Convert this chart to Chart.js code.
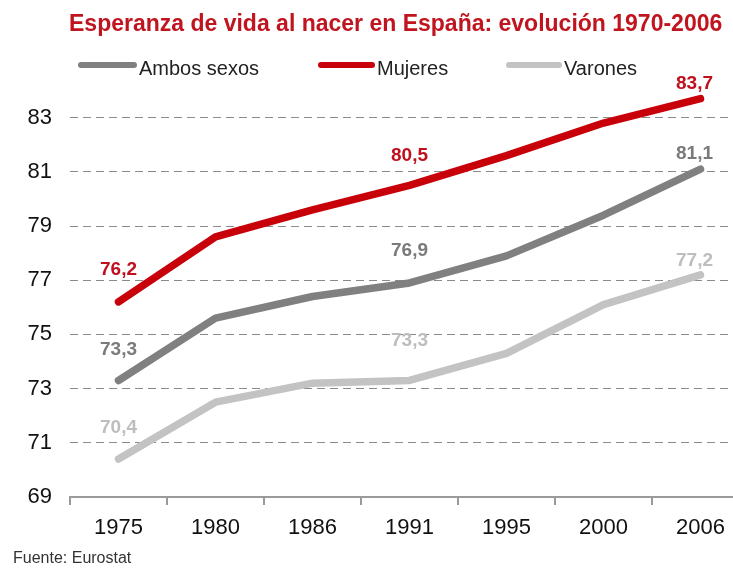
<!DOCTYPE html>
<html>
<head>
<meta charset="utf-8">
<script src="https://cdn.jsdelivr.net/npm/chart.js@4"></script>
<style>
  html, body { margin: 0; padding: 0; background: #fff; overflow: hidden; }
  #wrap { width: 733px; height: 570px; overflow: hidden; position: relative; }
</style>
</head>
<body>
<div id="wrap">
  <canvas id="chart" width="752" height="570"></canvas>
</div>
<script>
// datos
const years = ['1975', '1980', '1986', '1991', '1995', '2000', '2006'];
const ambosSexos = [73.3, 75.6, 76.4, 76.9, 77.9, 79.4, 81.1];
const mujeres = [76.2, 78.6, 79.6, 80.5, 81.6, 82.8, 83.7];
const varones = [70.4, 72.5, 73.2, 73.3, 74.3, 76.1, 77.2];
const yTicks = [69, 71, 73, 75, 77, 79, 81, 83];

const titulo = 'Esperanza de vida al nacer en España: evolución 1970-2006';
const fuente = 'Fuente: Eurostat';

const ROJO = '#c8000a';
const GRIS = '#808080';
const GRIS_CLARO = '#c3c3c3';

// etiquetas de valor: [indice, dx, dy]
const etiquetas = [
    { ds: 0, color: '#7a7a7a', pts: [[0, 0, -31], [3, 0, -32], [6, -6, -15]] },
    { ds: 1, color: '#c0101e', pts: [[0, 0, -32], [3, 0, -30], [6, -6, -15]] },
    { ds: 2, color: '#bdbdbd', pts: [[0, 0, -31], [3, 0, -40], [6, -6, -14]] }
];

// posiciones de la leyenda
const leyenda = [
    { ds: 0, x1: 78, x2: 137, tx: 139 },
    { ds: 1, x1: 318, x2: 375, tx: 377 },
    { ds: 2, x1: 506, x2: 562, tx: 564 }
];

const textosPlugin = {
    id: 'textos',
    afterDatasetsDraw(chart) {
        const ctx = chart.ctx;
        ctx.save();
        ctx.textAlign = 'center';
        ctx.textBaseline = 'middle';
        ctx.font = 'bold 19px "Liberation Sans", Arial, sans-serif';
        etiquetas.forEach(e => {
            const meta = chart.getDatasetMeta(e.ds);
            const data = chart.data.datasets[e.ds].data;
            ctx.fillStyle = e.color;
            e.pts.forEach(([i, dx, dy]) => {
                const p = meta.data[i];
                ctx.fillText(data[i].toFixed(1).replace('.', ','), p.x + dx, p.y + dy);
            });
        });
        ctx.restore();
    },
    afterDraw(chart) {
        const ctx = chart.ctx;
        ctx.save();
        // titulo
        ctx.fillStyle = '#c0141e';
        ctx.font = 'bold 23px "Liberation Sans", Arial, sans-serif';
        ctx.textAlign = 'left';
        ctx.textBaseline = 'alphabetic';
        ctx.fillText(titulo, 69, 31);

        // leyenda
        ctx.font = '20px "Liberation Sans", Arial, sans-serif';
        leyenda.forEach(l => {
            const ds = chart.data.datasets[l.ds];
            ctx.strokeStyle = ds.borderColor;
            ctx.lineWidth = 6;
            ctx.lineCap = 'round';
            ctx.beginPath();
            ctx.moveTo(l.x1 + 3, 65);
            ctx.lineTo(l.x2 - 3, 65);
            ctx.stroke();
            ctx.fillStyle = '#222';
            ctx.fillText(ds.label, l.tx, 75);
        });

        // fuente
        ctx.font = '16px "Liberation Sans", Arial, sans-serif';
        ctx.fillStyle = '#333';
        ctx.fillText(fuente, 13, 563);
        ctx.restore();
    }
};

const ctx = document.getElementById('chart').getContext('2d');
new Chart(ctx, {
    type: 'line',
    data: {
        labels: years,
        datasets: [
            { label: 'Ambos sexos', data: ambosSexos, borderColor: GRIS },
            { label: 'Mujeres', data: mujeres, borderColor: ROJO },
            { label: 'Varones', data: varones, borderColor: GRIS_CLARO }
        ]
    },
    options: {
        responsive: false,
        animation: false,
        layout: { padding: { top: 77, right: 3, bottom: 0, left: 0 } },
        elements: {
            line: { borderWidth: 7.5, tension: 0, borderCapStyle: 'round', borderJoinStyle: 'round' },
            point: { radius: 0, hoverRadius: 0 }
        },
        plugins: {
            legend: { display: false },
            tooltip: { enabled: false }
        },
        scales: {
            x: {
                offset: true,
                grid: {
                    offset: true,
                    drawOnChartArea: false,
                    tickLength: 8,
                    color: '#9a9a9a',
                    lineWidth: 2
                },
                border: { display: true, color: '#9a9a9a', width: 2 },
                ticks: {
                    color: '#111',
                    padding: 10,
                    font: { family: '"Liberation Sans", Arial, sans-serif', size: 22 }
                },
                afterFit(scale) { scale.height = 73; }
            },
            y: {
                min: 69,
                max: 84.5,
                afterBuildTicks(scale) {
                    scale.ticks = yTicks.map(v => ({ value: v }));
                },
                grid: {
                    drawTicks: false,
                    color: c => (c.tick && c.tick.value === 69 ? 'rgba(0,0,0,0)' : '#8a8a8a'),
                    lineWidth: 1
                },
                border: { display: false, dash: [8, 5] },
                ticks: {
                    color: '#111',
                    padding: 18,
                    font: { family: '"Liberation Sans", Arial, sans-serif', size: 22 }
                },
                afterFit(scale) { scale.width = 70; }
            }
        }
    },
    plugins: [textosPlugin]
});
</script>
</body>
</html>
